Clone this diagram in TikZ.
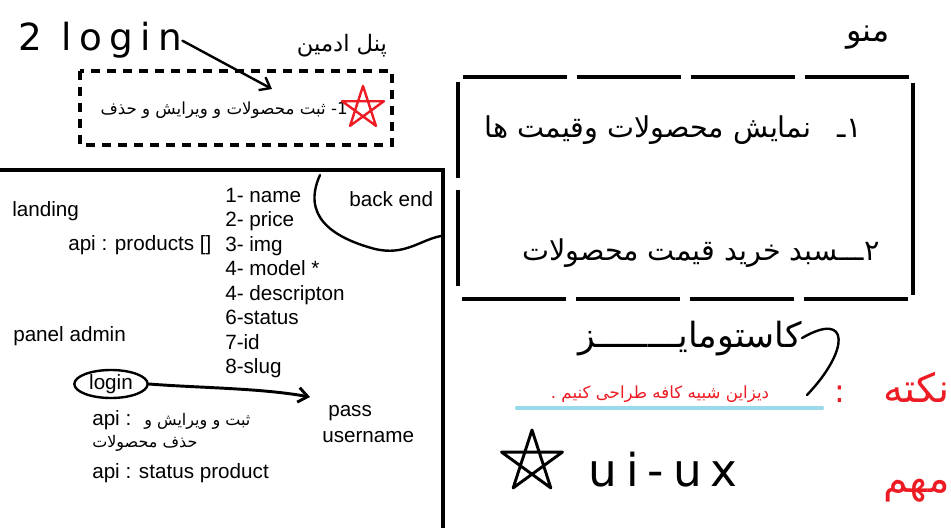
\documentclass[tikz,border=0pt]{standalone}
\usepackage{fontspec}
\setmainfont{Liberation Sans}
\newfontfamily\farsi[Script=Arabic]{DejaVu Sans}
\newfontfamily\handfont[LetterSpace=20]{DejaVu Sans}
\TeXXeTstate=1
\usepackage{xcolor}
\definecolor{paintred}{RGB}{237,28,36}
\definecolor{paintblue}{RGB}{153,217,234}
\usetikzlibrary{shapes,arrows.meta,positioning,calc}

\begin{document}
\begin{tikzpicture}[
    x=0.75pt, y=-0.75pt,
    every node/.style={font=\fontsize{15.5}{18}\selectfont, inner sep=0pt},
    txt/.style={anchor=base west},
    field/.style={anchor=base west, text height=11pt, text depth=3.5pt},
    fatxt/.style={font=\farsi\fontsize{12.5}{15}\selectfont},
    fabig/.style={font=\farsi\fontsize{21.5}{24}\selectfont},
    hand/.style={font=\handfont\fontsize{28}{30}\selectfont},
    fahand/.style={font=\farsi\fontsize{24}{26}\selectfont},
    frame/.style={line width=3pt},
    sidedash/.style={line width=3.2pt, dash pattern=on 78pt off 7.5pt},
    dotbox/.style={line width=3pt, dash pattern=on 7pt off 5pt},
    pen/.style={line width=1.8pt, line cap=round, line join=round},
    arrow/.style={pen, -{Straight Barb[length=7pt,width=11pt]}}
]
\useasboundingbox (0,0) rectangle (951,528);

% Admin panel note (top left)
\node[hand, anchor=base west] (login2) at (18,51) {2 login};
\node[fatxt, font=\farsi\fontsize{17}{20}\selectfont] (panel) at (342,46) {\beginR پنل ادمین\endR};
\draw[dotbox] (80,71) rectangle (392,145);
\node[fatxt, anchor=base east] (adminitem) at (348,115) {\beginR 1- ثبت محصولات و ویرایش و حذف\endR};
\coordinate (boxin) at (272,89);
\draw[arrow] (login2.east) -- (boxin);
\draw[pen, paintred] (363,108) +(-90:22) -- +(54:22) -- +(198:22) -- +(342:22) -- +(126:22) -- cycle;

% Menu box (top right)
\node[fahand] (menu) at (868,38) {\beginR منو\endR};
\draw[sidedash] (463,77) -- (910,77);
\draw[sidedash] (462,299) -- (908,299);
\draw[sidedash, dash pattern=on 72pt off 9pt] (458,82) -- (458,293);
\draw[line width=3.2pt] (913,83) -- (913,295);
\node[fabig, anchor=base east] (show) at (862,138) {\beginR ۱ـ\hspace{20pt}نمایش محصولات وقیمت ها\endR};
\node[fabig, anchor=base east] (cart) at (880,260) {\beginR ۲ـــسبد خرید قیمت محصولات\endR};

% Customize note
\node[fahand, font=\farsi\fontsize{26}{28}\selectfont, anchor=base east] (custom) at (802,347) {\beginR کاستومایــــــــز\endR};
\draw[pen] (custom.east) .. controls (850,310) and (850,350) .. (807,395);
\node[fatxt, text=paintred, anchor=base] (cafe) at (660,398) {\beginR دیزاین شبیه کافه طراحی کنیم .\endR};
\draw[paintblue, line width=3.2pt, line cap=round] (517,408) -- (822,408);
\node[fahand, text=paintred] (colon) at (840,394) {:};
\node[fahand, font=\farsi\fontsize{30}{32}\selectfont, text=paintred, anchor=base east] (note) at (950,402) {\beginR نکته\endR};
\node[fahand, font=\farsi\fontsize{30}{32}\selectfont, text=paintred, anchor=base east] (important) at (950,492) {\beginR مهم\endR};

% UI-UX
\draw[pen, line width=2.2pt] (532,462) +(-90:32) -- +(54:32) -- +(198:32) -- +(342:32) -- +(126:32) -- cycle;
\node[hand, font=\handfont\fontsize{34}{36}\selectfont, anchor=base west] (uiux) at (588,486) {ui-ux};

% Back end frame (left)
\draw[frame] (0,170) -- (443,170) -- (443,528);
\draw[pen] (320,175) .. controls (302,215) and (330,237) .. (375,249) .. controls (405,256) and (420,240) .. (441,236);
\node[txt] (backend) at (349,207) {back end};

% Landing
\node[txt] (landing) at (12,216) {landing};
\node[txt] (products) at (68,250) {api : products []};

% Product fields
\node[field] (f1) at (225,202) {1- name};
\node[field, below=3.5pt of f1.south west, anchor=north west] (f2) {2- price};
\node[field, below=3.5pt of f2.south west, anchor=north west] (f3) {3- img};
\node[field, below=3.5pt of f3.south west, anchor=north west] (f4) {4- model *};
\node[field, below=3.5pt of f4.south west, anchor=north west] (f5) {4- descripton};
\node[field, below=3.5pt of f5.south west, anchor=north west] (f6) {6-status};
\node[field, below=3.5pt of f6.south west, anchor=north west] (f7) {7-id};
\node[field, below=3.5pt of f7.south west, anchor=north west] (f8) {8-slug};

% Panel admin
\node[txt] (admin) at (13,341) {panel admin};
\node[ellipse, draw, pen, minimum width=55pt, minimum height=21pt] (login) at (111,384) {login};
\node[txt] (pass) at (328,416) {pass};
\node[txt] (user) at (322,442) {username};
\coordinate (passin) at (310,397);
\draw[arrow, line width=2.2pt] (login.east) .. controls (200,388) and (260,388) .. (passin);
\node[txt, align=left] (crud) at (92,425) {api :\hspace{4pt} {\farsi\fontsize{12}{14}\selectfont\beginR ثبت و ویرایش و\endR}};
\node[txt] (crud2) at (92,447) {\farsi\fontsize{12}{14}\selectfont\beginR حذف محصولات\endR};
\node[txt] (status) at (92,478) {api : status product};

\end{tikzpicture}
\end{document}
